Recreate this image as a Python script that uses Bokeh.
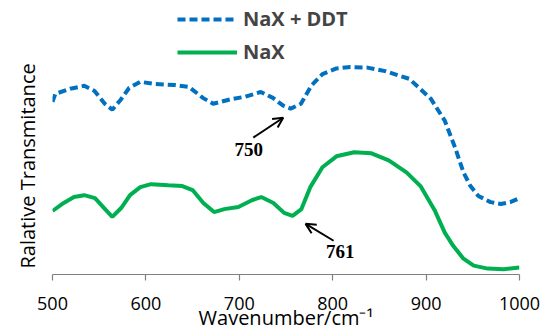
from bokeh.plotting import figure
from bokeh.models import Range1d, Legend, LegendItem, Label, Arrow, OpenHead, FixedTicker, Title
from bokeh.embed import file_html
from bokeh.resources import INLINE

# NaX + DDT (blue dashed)
wn_ddt = [500, 503, 519, 534, 545, 556, 564, 573, 582, 594, 609, 631, 646, 661, 672,
          691, 706, 723, 736, 747, 755, 766, 777, 789, 804, 819, 837, 856, 882, 905,
          920, 931, 940, 947.5, 956, 969, 980, 990, 1000]
t_ddt = [64.4, 67.4, 69.3, 70.4, 68.5, 63.7, 61.5, 65.2, 69.6, 71.9, 71.1, 70.7, 70.0, 65.9, 63.7,
         65.4, 66.3, 68.1, 65.9, 63.0, 61.9, 63.7, 70.4, 74.8, 76.9, 77.4, 77.2, 75.9, 73.0, 65.6,
         57.4, 47.4, 38.1, 33.0, 29.3, 27.0, 26.3, 27.0, 28.5]

# NaX (green solid)
wn_nax = [500, 512, 523, 534, 545.5, 557, 564, 573.5, 583, 594, 605.5, 624, 639, 650, 661.5,
          673, 684, 699, 714, 723.5, 736.5, 748, 757, 766.5, 776, 789, 804, 823, 841.5, 860,
          879, 894, 909, 920, 929, 940, 951, 966, 983, 1000]
t_nax = [23.7, 26.7, 28.9, 29.6, 28.5, 24.1, 21.5, 24.8, 29.6, 32.6, 33.7, 33.3, 33.0, 31.5, 26.7,
         23.3, 24.4, 25.2, 27.8, 28.9, 26.7, 23.0, 21.9, 24.4, 32.6, 40.0, 44.1, 45.6, 45.2, 42.6,
         38.1, 33.0, 24.1, 15.6, 10.7, 5.9, 3.3, 2.2, 2.0, 2.6]

x_ticks = [500, 600, 700, 800, 900, 1000]

# annotations: (label, text pos, arrow tail, arrow head) in data units
ann_750 = ("750", (710, 46.5), (715, 51.1), (747, 58.5))
ann_761 = ("761", (808, 8.5), (801, 12.6), (771, 18.9))

BLUE = "#0070C0"
GREEN = "#00B050"

p = figure(width=549, height=333, output_backend="svg", toolbar_location=None,
           x_range=Range1d(500, 1000), y_range=Range1d(0, 100),
           min_border_left=52, min_border_right=30, min_border_top=6, min_border_bottom=57)
p.outline_line_color = None
p.grid.visible = False
p.yaxis.visible = False
p.background_fill_color = "white"
p.border_fill_color = "white"

ax = p.xaxis[0]
ax.ticker = FixedTicker(ticks=x_ticks)
ax.axis_line_color = "#808080"
ax.axis_line_width = 1.2
ax.major_tick_line_color = "#808080"
ax.major_tick_line_width = 1.2
ax.major_tick_out = 6
ax.major_tick_in = 0
ax.minor_tick_line_color = None
ax.major_label_text_font = "Open Sans"
ax.major_label_text_font_size = "18px"
ax.major_label_text_color = "black"
ax.major_label_standoff = 16
ax.axis_label = "Wavenumber/cm\u207b\u00b9"
ax.axis_label_text_font = "Open Sans"
ax.axis_label_text_font_style = "normal"
ax.axis_label_text_font_size = "20px"
ax.axis_label_text_color = "black"
ax.axis_label_standoff = -9

r_ddt = p.line(wn_ddt, t_ddt, line_color=BLUE, line_width=4, line_dash="8 4")
r_nax = p.line(wn_nax, t_nax, line_color=GREEN, line_width=4)

legend = Legend(items=[LegendItem(label="NaX + DDT", renderers=[r_ddt]),
                       LegendItem(label="NaX", renderers=[r_nax])],
                location=(125, 209), glyph_width=60, glyph_height=20, label_height=20,
                spacing=6, padding=0, margin=0, label_standoff=6,
                label_text_font="Open Sans", label_text_font_style="bold",
                label_text_font_size="20px", border_line_color=None,
                background_fill_alpha=0)
p.add_layout(legend, "center")

for txt, (tx, ty), (ax0, ay0), (ax1, ay1) in [ann_750, ann_761]:
    p.add_layout(Label(x=tx, y=ty, text=txt, text_align="center", text_baseline="middle",
                       text_font="Liberation Serif", text_font_style="bold",
                       text_font_size="19px", text_color="black"))
    p.add_layout(Arrow(x_start=ax0, y_start=ay0, x_end=ax1, y_end=ay1,
                       line_color="black", line_width=2,
                       end=OpenHead(size=10, line_color="black", line_width=2)))

# y-axis title (the reference has no y axis line or ticks)
p.add_layout(Title(text="Ralative Transmitance", align="left", vertical_align="top",
                   offset=6, standoff=20,
                   text_font="Open Sans", text_font_style="normal", text_font_size="20px",
                   text_color="black"), "left")

open("out.html", "w").write(file_html(p, INLINE))
